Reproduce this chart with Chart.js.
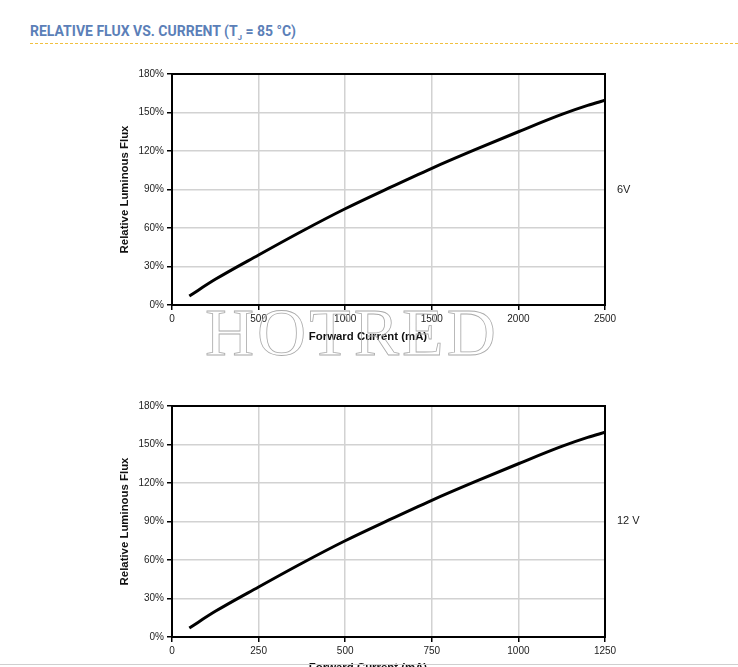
<!DOCTYPE html>
<html lang="en">
<head>
    <meta charset="UTF-8">
    <title>Relative Flux vs. Current</title>
    <script src="https://cdn.jsdelivr.net/npm/chart.js"></script>
    <style>
        body {
            margin: 0;
            padding: 0;
            width: 738px;
            height: 667px;
            overflow: hidden;
            background: #fff;
            font-family: "Liberation Sans", Arial, sans-serif;
            position: relative;
        }

        .page-title {
            position: absolute;
            left: 30px;
            top: 23px;
            font-family: Roboto, sans-serif;
            font-weight: bold;
            font-size: 14px;
            color: #5b7fb8;
            white-space: nowrap;
        }

        .page-title sub {
            font-size: 8px;
        }

        .title-rule {
            position: absolute;
            left: 30px;
            right: 0;
            top: 43px;
            height: 1px;
            background: repeating-linear-gradient(to right, #f0c040 0 3px, transparent 3px 5px);
        }

        .chart-wrapper {
            position: absolute;
            left: 0;
            width: 738px;
            height: 300px;
        }

        .x-title {
            position: absolute;
            width: 200px;
            margin-left: -100px;
            text-align: center;
            font-weight: bold;
            font-size: 11.4px;
            color: #111;
            line-height: 14px;
        }

        .side-label {
            position: absolute;
            font-size: 11px;
            color: #222;
            line-height: 14px;
        }

        .watermark {
            position: absolute;
            left: 205px;
            top: 298px;
            font-family: "Liberation Serif", serif;
            font-size: 68px;
            line-height: 68px;
            letter-spacing: 3px;
            color: transparent;
            -webkit-text-stroke: 0.8px #aaa;
            pointer-events: none;
        }

        .page-rule {
            position: absolute;
            left: 0;
            right: 0;
            top: 664px;
            border-top: 1px solid #cfcfcf;
        }
    </style>
</head>
<body>

    <div class="page-title">RELATIVE FLUX VS. CURRENT (T<sub>J</sub> = 85 °C)</div>
    <div class="title-rule"></div>

    <!-- 6V chart -->
    <div class="chart-wrapper" style="top: 60px;">
        <canvas id="chart6v"></canvas>
    </div>
    <div class="x-title" style="left: 368px; top: 329px;">Forward Current (mA)</div>
    <div class="side-label" style="left: 617px; top: 182px;">6V</div>

    <!-- 12V chart -->
    <div class="chart-wrapper" style="top: 392px;">
        <canvas id="chart12v"></canvas>
    </div>
    <div class="x-title" style="left: 368px; top: 660px;">Forward Current (mA)</div>
    <div class="side-label" style="left: 617px; top: 513px;">12 V</div>

    <div class="watermark">HOTRED</div>
    <div class="page-rule"></div>

    <script>
        // values
        const current6v = [100, 250, 500, 750, 1000, 1250, 1500, 1750, 2000, 2250, 2400, 2500];
        const current12v = [50, 125, 250, 375, 500, 625, 750, 875, 1000, 1125, 1200, 1250];
        const relFlux = [7, 20, 39, 57.5, 75, 91, 106.5, 121, 135, 148.5, 155.5, 159.5];

        const fluxTicks = { min: 0, max: 180, step: 30 };
        const xMax6v = 2500, xStep6v = 500;
        const xMax12v = 1250, xStep12v = 250;

        // black box round the plot area
        const frame = {
            id: 'frame',
            beforeDatasetsDraw(chart) {
                const a = chart.chartArea;
                const ctx = chart.ctx;
                ctx.save();
                ctx.strokeStyle = '#000';
                ctx.lineWidth = 2;
                ctx.strokeRect(a.left, a.top, a.right - a.left, a.bottom - a.top);
                ctx.restore();
            }
        };

        const tickFont = { family: 'Liberation Sans', size: 10 };

        function makeChart(id, xs, ys, xMax, xStep) {
            const pts = xs.map((x, i) => ({ x: x, y: ys[i] }));
            return new Chart(document.getElementById(id), {
                type: 'line',
                data: {
                    datasets: [{
                        data: pts,
                        borderColor: '#000',
                        borderWidth: 3,
                        pointRadius: 0,
                        cubicInterpolationMode: 'monotone',
                        fill: false
                    }]
                },
                options: {
                    responsive: true,
                    maintainAspectRatio: false,
                    animation: false,
                    layout: { padding: { left: 114, right: 133, top: 14, bottom: 15 } },
                    plugins: { legend: { display: false }, tooltip: { enabled: false } },
                    scales: {
                        x: {
                            type: 'linear',
                            min: 0,
                            max: xMax,
                            afterFit: s => { s.height = 40; },
                            ticks: {
                                stepSize: xStep,
                                maxRotation: 0,
                                padding: 3,
                                color: '#222',
                                font: tickFont,
                                callback: v => String(v)
                            },
                            grid: { color: '#d2d2d2', lineWidth: 1.5, tickLength: 5, tickColor: '#000' },
                            border: { color: '#000', width: 2 }
                        },
                        y: {
                            min: fluxTicks.min,
                            max: fluxTicks.max,
                            afterFit: s => { s.width = 58; },
                            ticks: {
                                stepSize: fluxTicks.step,
                                padding: 3,
                                color: '#222',
                                font: tickFont,
                                callback: v => v + '%'
                            },
                            grid: { color: '#d2d2d2', lineWidth: 1.5, tickLength: 5, tickColor: '#000' },
                            border: { color: '#000', width: 2 },
                            title: {
                                display: true,
                                text: 'Relative Luminous Flux',
                                color: '#111',
                                font: { family: 'Liberation Sans', size: 11.4, weight: 'bold' },
                                padding: { top: 4, bottom: 4 }
                            }
                        }
                    }
                },
                plugins: [frame]
            });
        }

        makeChart('chart6v', current6v, relFlux, xMax6v, xStep6v);
        makeChart('chart12v', current12v, relFlux, xMax12v, xStep12v);
    </script>
</body>
</html>
